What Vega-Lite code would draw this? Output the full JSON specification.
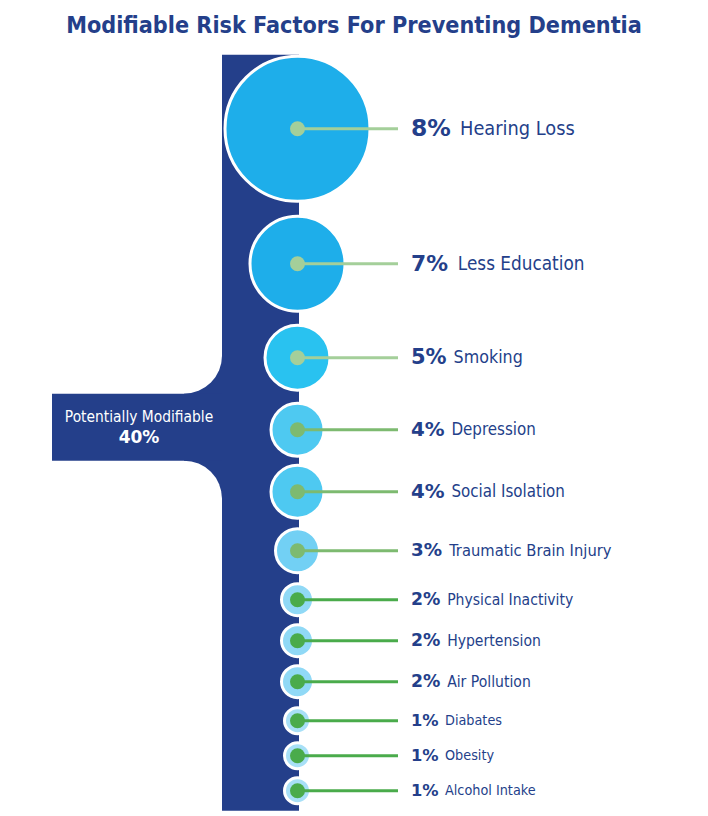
{
  "$schema": "https://vega.github.io/schema/vega-lite/v6.json",
  "width": 708,
  "height": 772,
  "padding": {"top": 13.7, "left": 0, "right": 0, "bottom": 0},
  "autosize": {"type": "pad"},
  "background": "white",
  "config": {"view": {"stroke": null}},
  "title": {
    "text": "Modifiable Risk Factors For Preventing Dementia",
    "font": "DejaVu Sans Condensed, Roboto, sans-serif",
    "fontSize": 23.2,
    "fontWeight": "bold",
    "color": "#243f8a",
    "anchor": "middle",
    "offset": 5
  },
  "data": {
    "values": [
      {"rank": 1, "factor": "Hearing Loss", "share": 0.08},
      {"rank": 2, "factor": "Less Education", "share": 0.07},
      {"rank": 3, "factor": "Smoking", "share": 0.05},
      {"rank": 4, "factor": "Depression", "share": 0.04},
      {"rank": 5, "factor": "Social Isolation", "share": 0.04},
      {"rank": 6, "factor": "Traumatic Brain Injury", "share": 0.03},
      {"rank": 7, "factor": "Physical Inactivity", "share": 0.02},
      {"rank": 8, "factor": "Hypertension", "share": 0.02},
      {"rank": 9, "factor": "Air Pollution", "share": 0.02},
      {"rank": 10, "factor": "Diabates", "share": 0.01},
      {"rank": 11, "factor": "Obesity", "share": 0.01},
      {"rank": 12, "factor": "Alcohol Intake", "share": 0.01}
    ]
  },
  "resolve": {"scale": {"x": "independent", "size": "independent"}},
  "layer": [
    {
      "data": {"values": [{}]},
      "mark": {"type": "rect", "color": "#243f8a"},
      "encoding": {
        "x": {"datum": 184, "type": "quantitative", "scale": {"domain": [0, 708], "nice": false, "zero": false}, "axis": null},
        "x2": {"datum": 222},
        "y": {"datum": 2.979, "type": "quantitative", "scale": {"domain": [0,1,2,3,4,5,6,7,8,9,10,11,12,13], "range": [11,85,220,314,386,448,507,556,597,638,677,712,747,767], "nice": false, "zero": false}, "axis": null},
        "y2": {"datum": 5.119}
      }
    },
    {
      "data": {"values": [{}]},
      "mark": {"type": "circle", "color": "white", "opacity": 1, "size": 5776},
      "encoding": {
        "x": {"datum": 184, "type": "quantitative", "scale": {"domain": [0, 708], "nice": false, "zero": false}, "axis": null},
        "y": {"datum": 2.979, "type": "quantitative", "scale": {"domain": [0,1,2,3,4,5,6,7,8,9,10,11,12,13], "range": [11,85,220,314,386,448,507,556,597,638,677,712,747,767], "nice": false, "zero": false}, "axis": null}
      }
    },
    {
      "data": {"values": [{}]},
      "mark": {"type": "circle", "color": "white", "opacity": 1, "size": 5776},
      "encoding": {
        "x": {"datum": 184, "type": "quantitative", "scale": {"domain": [0, 708], "nice": false, "zero": false}, "axis": null},
        "y": {"datum": 5.119, "type": "quantitative", "scale": {"domain": [0,1,2,3,4,5,6,7,8,9,10,11,12,13], "range": [11,85,220,314,386,448,507,556,597,638,677,712,747,767], "nice": false, "zero": false}, "axis": null}
      }
    },
    {
      "data": {"values": [{}]},
      "mark": {"type": "rect", "color": "#243f8a"},
      "encoding": {
        "x": {"datum": 222, "type": "quantitative", "scale": {"domain": [0, 708], "nice": false, "zero": false}, "axis": null},
        "x2": {"datum": 299},
        "y": {"datum": 0, "type": "quantitative", "scale": {"domain": [0,1,2,3,4,5,6,7,8,9,10,11,12,13], "range": [11,85,220,314,386,448,507,556,597,638,677,712,747,767], "nice": false, "zero": false}, "axis": null},
        "y2": {"datum": 13}
      }
    },
    {
      "data": {"values": [{}]},
      "mark": {"type": "rect", "color": "#243f8a"},
      "encoding": {
        "x": {"datum": 52, "type": "quantitative", "scale": {"domain": [0, 708], "nice": false, "zero": false}, "axis": null},
        "x2": {"datum": 222},
        "y": {"datum": 3.5, "type": "quantitative", "scale": {"domain": [0,1,2,3,4,5,6,7,8,9,10,11,12,13], "range": [11,85,220,314,386,448,507,556,597,638,677,712,747,767], "nice": false, "zero": false}, "axis": null},
        "y2": {"datum": 4.5}
      }
    },
    {
      "data": {"values": [{}]},
      "mark": {"type": "text", "color": "white", "font": "DejaVu Sans Condensed, Roboto, sans-serif", "fontSize": 15.4, "align": "center", "baseline": "middle"},
      "encoding": {
        "x": {"datum": 139, "type": "quantitative", "scale": {"domain": [0, 708], "nice": false, "zero": false}, "axis": null},
        "y": {"datum": 3.82, "type": "quantitative", "scale": {"domain": [0,1,2,3,4,5,6,7,8,9,10,11,12,13], "range": [11,85,220,314,386,448,507,556,597,638,677,712,747,767], "nice": false, "zero": false}, "axis": null},
        "text": {"datum": "Potentially Modifiable"}
      }
    },
    {
      "data": {"values": [{}]},
      "mark": {"type": "text", "color": "white", "font": "DejaVu Sans", "fontWeight": "bold", "fontSize": 17, "align": "center", "baseline": "middle"},
      "encoding": {
        "x": {"datum": 139, "type": "quantitative", "scale": {"domain": [0, 708], "nice": false, "zero": false}, "axis": null},
        "y": {"datum": 4.13, "type": "quantitative", "scale": {"domain": [0,1,2,3,4,5,6,7,8,9,10,11,12,13], "range": [11,85,220,314,386,448,507,556,597,638,677,712,747,767], "nice": false, "zero": false}, "axis": null},
        "text": {"datum": "40%"}
      }
    },
    {
      "mark": {"type": "circle", "opacity": 1, "stroke": "white", "strokeWidth": 3},
      "encoding": {
        "x": {"datum": 297.5, "type": "quantitative", "scale": {"domain": [0, 708], "nice": false, "zero": false}, "axis": null},
        "y": {"field": "rank", "type": "quantitative", "scale": {"domain": [0,1,2,3,4,5,6,7,8,9,10,11,12,13], "range": [11,85,220,314,386,448,507,556,597,638,677,712,747,767], "nice": false, "zero": false}, "axis": null},
        "size": {"field": "share", "type": "quantitative", "scale": {"domain": [0.01,0.02,0.03,0.04,0.05,0.07,0.08], "range": [676,1024,1936,2809,4225,9025,21025], "zero": false, "nice": false}, "legend": null},
        "fill": {"field": "share", "type": "ordinal", "scale": {"domain": [0.08,0.07,0.05,0.04,0.03,0.02,0.01], "range": ["#1eaeea","#1eaeea","#29c2f0","#4ec9f1","#72d0f4","#90d9f6","#a8e0f7"]}, "legend": null}
      }
    },
    {
      "mark": {"type": "rule", "strokeWidth": 3},
      "encoding": {
        "x": {"datum": 297.5, "type": "quantitative", "scale": {"domain": [0, 708], "nice": false, "zero": false}, "axis": null},
        "x2": {"datum": 398},
        "y": {"field": "rank", "type": "quantitative", "scale": {"domain": [0,1,2,3,4,5,6,7,8,9,10,11,12,13], "range": [11,85,220,314,386,448,507,556,597,638,677,712,747,767], "nice": false, "zero": false}, "axis": null},
        "color": {"field": "share", "type": "ordinal", "scale": {"domain": [0.08,0.07,0.05,0.04,0.03,0.02,0.01], "range": ["#a4cf9a","#a4cf9a","#a4cf9a","#7dba70","#7dba70","#4aab4b","#4aab4b"]}, "legend": null}
      }
    },
    {
      "mark": {"type": "circle", "opacity": 1, "size": 225},
      "encoding": {
        "x": {"datum": 297.5, "type": "quantitative", "scale": {"domain": [0, 708], "nice": false, "zero": false}, "axis": null},
        "y": {"field": "rank", "type": "quantitative", "scale": {"domain": [0,1,2,3,4,5,6,7,8,9,10,11,12,13], "range": [11,85,220,314,386,448,507,556,597,638,677,712,747,767], "nice": false, "zero": false}, "axis": null},
        "color": {"field": "share", "type": "ordinal", "scale": {"domain": [0.08,0.07,0.05,0.04,0.03,0.02,0.01], "range": ["#a4cf9a","#a4cf9a","#a4cf9a","#7dba70","#7dba70","#4aab4b","#4aab4b"]}, "legend": null}
      }
    },
    {
      "mark": {"type": "text", "color": "#243f8a", "font": "DejaVu Sans", "fontWeight": "bold", "align": "left", "baseline": "middle"},
      "encoding": {
        "x": {"datum": 411, "type": "quantitative", "scale": {"domain": [0, 708], "nice": false, "zero": false}, "axis": null},
        "y": {"field": "rank", "type": "quantitative", "scale": {"domain": [0,1,2,3,4,5,6,7,8,9,10,11,12,13], "range": [11,85,220,314,386,448,507,556,597,638,677,712,747,767], "nice": false, "zero": false}, "axis": null},
        "text": {"field": "share", "type": "quantitative", "format": ".0%"},
        "size": {"field": "share", "type": "quantitative", "scale": {"domain": [0.01,0.02,0.03,0.04,0.05,0.07,0.08], "range": [16.3,17.3,18.3,19.8,21,21.8,23.5], "zero": false, "nice": false}, "legend": null}
      }
    },
    {
      "mark": {"type": "text", "color": "#243f8a", "font": "DejaVu Sans Condensed, Roboto, sans-serif", "align": "left", "baseline": "middle"},
      "encoding": {
        "x": {"field": "share", "type": "quantitative", "scale": {"domain": [0.01, 0.08], "range": [445, 460], "nice": false, "zero": false}, "axis": null},
        "y": {"field": "rank", "type": "quantitative", "scale": {"domain": [0,1,2,3,4,5,6,7,8,9,10,11,12,13], "range": [11,85,220,314,386,448,507,556,597,638,677,712,747,767], "nice": false, "zero": false}, "axis": null},
        "text": {"field": "factor", "type": "nominal"},
        "size": {"field": "share", "type": "quantitative", "scale": {"domain": [0.01,0.02,0.03,0.04,0.05,0.07,0.08], "range": [14.3,15.6,16.4,16.8,17.7,18.8,19.8], "zero": false, "nice": false}, "legend": null}
      }
    }
  ]
}
